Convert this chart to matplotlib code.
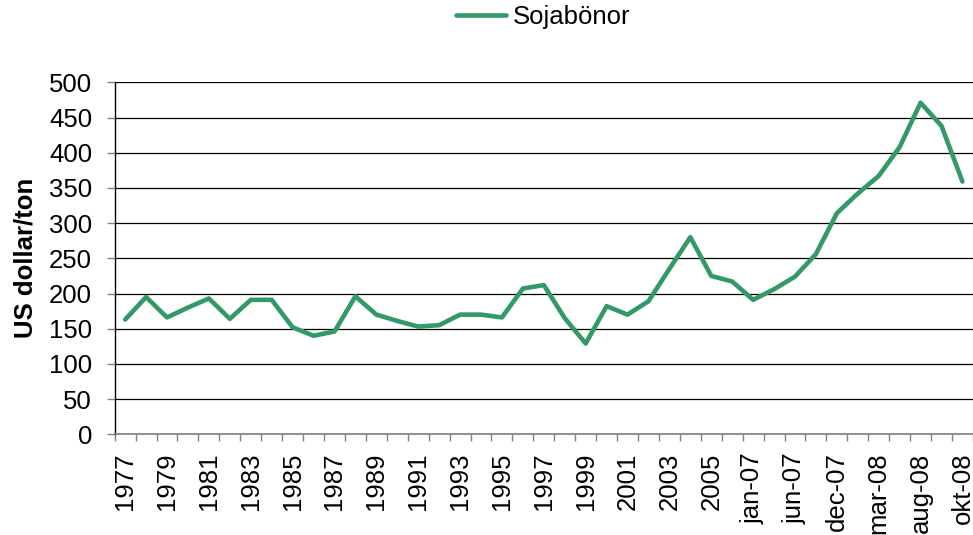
import matplotlib
matplotlib.use("Agg")
import matplotlib.pyplot as plt
import numpy as np

plt.rcParams['font.family'] = ['Liberation Sans', 'DejaVu Sans']

categories = [str(y) for y in range(1977, 2007)] + [
    "jan-07", "mar-07", "jun-07", "sep-07", "dec-07", "feb-08",
    "mar-08", "jun-08", "aug-08", "sep-08", "okt-08"]
soja = [163, 195, 166, 180, 193, 164, 191, 191, 152, 140,
        146, 196, 170, 161, 153, 155, 170, 170, 166, 207,
        212, 165, 129, 182, 170, 189, 235, 280, 225, 217,
        191, 206, 224, 256, 314, 342, 367, 408, 471, 438, 359]
yticks = list(range(0, 501, 50))

FS = 18.5
fig = plt.figure(figsize=(9.73, 5.35), dpi=100)
ax = fig.add_axes([114.7/973, 1-434.3/535, (972.9-114.7)/973, (434.3-82.3)/535])

x = np.arange(len(categories))
ax.plot(x, soja, color='#339966', lw=3.3, solid_joinstyle='round',
        solid_capstyle='round', label='Sojabönor', zorder=3, clip_on=False)

ax.set_ylim(0, 500)
ax.set_xlim(-0.5, len(categories) - 0.5)
ax.set_yticks(yticks)
ax.set_yticklabels([str(v) for v in yticks], fontsize=FS)
ax.yaxis.grid(True, color='black', lw=0.9)
ax.set_axisbelow(True)

ax.set_xticks(np.arange(-0.5, len(categories), 1))
ax.set_xticklabels([])
ax.set_xticks(x[::2], minor=True)
ax.set_xticklabels(categories[::2], minor=True, rotation=90, fontsize=FS)
ax.tick_params(axis='x', which='major', length=5.2, color='#808080', width=1)
ax.tick_params(axis='x', which='minor', length=0, pad=13)
ax.tick_params(axis='y', length=5.8, color='#808080', width=1, pad=10.5)

for s in ['top', 'right']:
    ax.spines[s].set_visible(False)
ax.spines['left'].set_color('black')
ax.spines['left'].set_linewidth(1)
ax.spines['bottom'].set_color('#808080')
ax.spines['bottom'].set_linewidth(1.2)

ax.set_ylabel('US dollar/ton', fontsize=FS, fontweight='bold')
ax.yaxis.set_label_coords((37.8 - 114.7)/858, 0.5)

fig.legend(loc='center', bbox_to_anchor=(543/973, 1-16.7/535), frameon=False,
           fontsize=FS, handlelength=1.98, handletextpad=0.25)

fig.savefig('out.png', dpi=100)
